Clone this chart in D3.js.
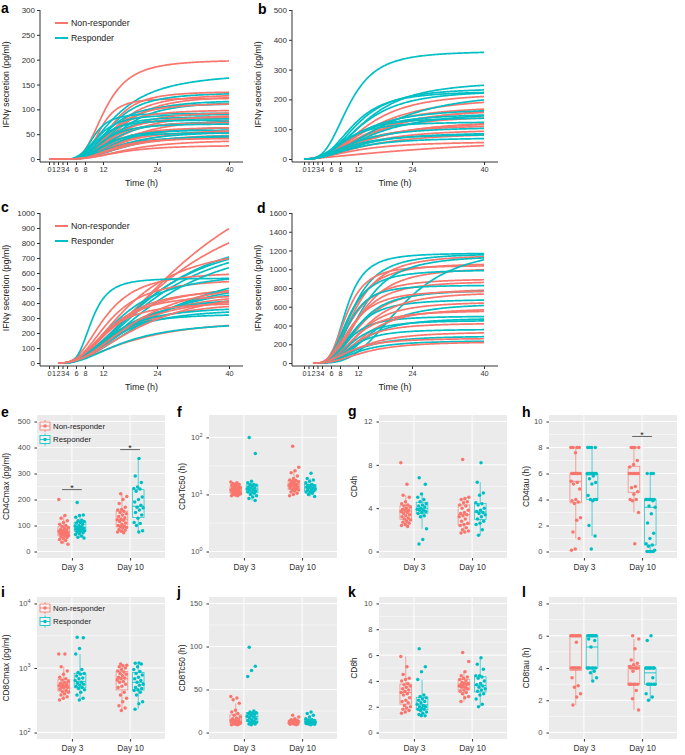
<!DOCTYPE html>
<html><head><meta charset="utf-8">
<script src="https://cdn.jsdelivr.net/npm/d3@7"></script>
<style>
body{margin:0;background:#fff}
svg{display:block}
text{font-family:"Liberation Sans",Arial,Helvetica,sans-serif}
</style>
</head><body>
<svg id="chart" width="685" height="755"></svg>
<script>
const RED="#F8766D", TEAL="#00BFC4";
const timeTicks=[0,1,2,3,4,6,8,12,24,40];
const groupNames=["Non-responder","Responder"];
const dayNames=["Day 3","Day 10"];

// Fitted kinetic curves, one per patient: [Cmax, Tc50, h, tau]
const aNon=[[200,8.5,3,4],[122,7.5,4,4],[136,10,3.5,4],[131,11,3,4],[128,12,3,4],[113,10,3,4],[99,9,3,4],[95,11,3,4],[92,12,2.5,4],[86,10,3,4],[82,13,2.5,4],[74,9,3,4],[67,12,2.5,4],[64,10,3,4],[62,14,2.5,4],[56,11,3,4],[51,13,2.5,4],[46,12,2.5,4],[42,10,3,4],[39,14,2.5,4],[28,12,2.5,4]];
const aRes=[[175,11,2.2,4],[134,10,3,4],[119,11,3,4],[116,12,3,4],[112,9,3,4],[92,6,3.5,4],[90,7,3,4],[86,8,3,4],[83,9,3,4],[79,7,3,4],[76,10,3,4],[71,8,3,4],[66,11,2.5,4],[59,9,3,4],[56,12,2.5,4],[53,8,3,4],[50,13,2.5,4],[46,10,2.5,4]];
const bNon=[[222,14,2.7,0],[210,15,2.3,0],[185,16,2,0],[180,13,2.3,0],[170,14,2.3,0],[148,13,2.3,0],[135,15,2,0],[126,14,2.3,0],[116,12,2.3,0],[100,13,2.3,0],[90,14,2,0],[60,12,2,0],[90,40,1.3,0]];
const bRes=[[362,10,3.2,0],[262,14,2.7,0],[238,12,3,0],[232,13,2.7,0],[228,11,3,0],[230,18,2.3,0],[172,12,2.3,0],[160,15,2.3,0],[155,11,2.3,0],[140,10,2.7,0],[125,9,2.7,0],[108,11,2.3,0],[90,12,2.3,0],[84,10,2.3,0],[72,11,2.3,0]];
const cNon=[[1520,31,1.9,2.5],[1200,26,1.9,2.5],[805,16,2.2,2.5],[610,10,2.6,2.5],[565,11,2.6,2.5],[530,13,2.2,2.5],[500,12,2.6,2.5],[485,15,2.2,2.5],[460,11,2.6,2.5],[450,14,2.2,2.5],[420,14,2.2,2.5],[405,10,2.6,2.5],[300,16,1.9,2.5],[560,17,2.2,2.5],[520,19,2,2.5]];
const cRes=[[935,21,2,3],[895,20,2,3],[885,21,2,3],[860,22,2,3],[565,6.5,3.5,3],[610,13,2.3,3],[600,19,1.9,3],[540,17,2.1,3],[700,23,1.9,3],[450,13,2.3,3],[380,11,2.3,3],[365,12,2.3,3],[330,10,2.6,3],[280,14,2.1,3]];
const dNon=[[1155,9,2.8,2.5],[1065,8,2.8,2.5],[1040,7,3.2,2.5],[1020,10,2.8,2.5],[900,8,2.8,2.5],[875,9,2.8,2.5],[795,10,2.8,2.5],[775,8,2.8,2.5],[760,11,2.8,2.5],[655,10,2.8,2.5],[585,11,2.8,2.5],[560,9,2.8,2.5],[425,9,2.8,2.5],[335,10,2.4,2.5],[265,8,2.4,2.5],[230,11,2.4,2.5]];
const dRes=[[1172,6.5,3.2,3],[1170,8,2.8,3],[1150,10,2.8,3],[995,7,2.8,3],[1250,19,3,3],[830,7,3.2,3],[780,9,2.8,3],[680,8,2.8,3],[640,12,2.8,3],[500,7,2.8,3],[480,10,2.8,3],[455,8,2.8,3],[360,8,2.8,3],[290,9,2.4,3],[240,9,2.4,3]];

// Per-patient parameters (dot plots)
const e3Non=[200,138,128,118,112,105,100,96,92,88,85,82,80,78,76,74,72,70,68,66,64,62,60,57,54,50,46,42,36,28];
const e3Res=[188,140,138,132,120,118,115,112,110,105,100,98,95,92,90,88,86,84,82,80,78,75,72,68,65,60,55,52];
const e10Non=[222,212,200,185,170,162,160,155,150,145,140,135,130,125,122,120,115,110,105,100,98,95,92,90,85,82,78,75,72];
const e10Res=[358,290,265,248,242,240,232,210,200,190,178,170,168,160,150,140,128,112,108,100,80,75];
const f3Non=[16.5,16,15.5,15,14.8,14.5,14,13.5,13.2,13,12.8,12.5,12.2,12,11.8,11.5,11.3,11,11,10.8,10.5,10.3,10.2,10,10,9.8,9.5,9.5,12,13];
const f3Res=[100,52,17,16,15,15,14.5,14,13.5,13,13,12.5,12,12,11.5,11,11,10.5,10,9.5,9,8.5,7.8];
const f10Non=[70,30,26,24,21,19,18,17.5,17,16.5,16,15.5,15,15,14.5,14,14,13.5,13,13,12.5,12,12,11.5,11,10.5,10,9.5];
const f10Res=[23.5,19,18,17,16,15,14.5,14,14,13.5,13,13,12.5,12,12,11.5,11,11,10.5,10,9.2];
const g3Non=[8.2,6.2,5.2,5,4.6,4.4,4.3,4.2,4.1,4,3.9,3.8,3.8,3.7,3.6,3.5,3.4,3.3,3.2,3.1,3,2.9,2.8,2.7,2.6,2.5,2.4,2.3];
const g3Res=[6.8,6.2,5.3,5,4.8,4.6,4.4,4.3,4.2,4.1,4,3.9,3.8,3.8,3.7,3.6,3.5,3.3,3.2,2.1,1.1,0.7];
const g10Non=[8.5,5,4.9,4.8,4.6,4.5,4.3,4.2,4,3.8,3.6,3.5,3.4,3.3,3.2,3,2.8,2.6,2.5,2.4,2.2,2,1.9,1.8,1.7];
const g10Res=[8.2,6.4,5.4,5.2,4.5,4.4,4.3,4,3.8,3.7,3.6,3.5,3.4,3.2,3,2.8,2.6,2.5,2,1.5];
const h3Non=[8,8,8,8,7.6,6,6,6,6,6,6,6,6,5.4,5.3,5.2,4.8,4,3.9,3.8,3.7,2.6,2.4,1.5,1,0.2,0.1];
const h3Res=[8,8,8,8,6,6,6,6,6,6,6,6,5.8,5.6,5.3,5.2,4.3,4,4,4,3.9,2,1.2,0.2];
const h10Non=[8,8,8,8,7,6.7,6.5,6,6,6,6,6,6,6,6,5,4.9,4.6,4.4,4,4,3.9,3,0.6];
const h10Res=[6,6,6,4,4,4,4,4,4,4,3.9,3.5,3.4,2.9,2.2,1.4,1,0.6,0.5,0.4,0.1,0,0,0,0];
const i3Non=[1650,1650,1050,900,800,720,680,650,620,600,580,560,550,530,520,510,500,490,470,450,430,420,400,380,360,340,320];
const i3Res=[3000,2950,2000,1650,950,850,820,800,750,700,680,640,600,580,560,540,520,500,480,460,420,380,340,320];
const i10Non=[1150,1100,1080,1050,1000,950,900,870,820,800,760,720,700,680,650,620,600,560,520,500,420,380,340,300,260,240,220];
const i10Res=[1200,1180,1150,1050,950,880,820,780,720,680,640,600,560,540,500,480,460,450,420,380,300,280,230];
const j3Non=[42,40,38,34,26,24,22,20,18,17,16,15,14,14,13,13,12,12,12,11,11,11,10,10,10,9.5,9,9];
const j3Res=[99,77,72,65,25,24,23,22,22,21,20,19,18,17,16,15,14,13,12,12,11,10,10,9];
const j10Non=[20,18,16,15,14,14,13.5,13,13,12.5,12,12,12,11.5,11,11,10.5,10,10,9.5,9];
const j10Res=[24,22,20,18,16,15,14.5,14,13.5,13,13,12.5,12,12,11.5,11,11,10.5,10,10,9.5,9];
const k3Non=[5.9,5.1,4.5,4.2,4.1,4,3.8,3.7,3.6,3.5,3.4,3.3,3.2,3.1,3,2.9,2.7,2.5,2.4,2.3,2.1,2,1.9,1.8,1.7,1.6,1.5];
const k3Res=[6.5,5.1,4.7,4.1,2.9,2.8,2.7,2.6,2.5,2.4,2.3,2.2,2.1,2,2,1.9,1.8,1.8,1.7,1.6,1.5,1.4,1.3,1.3];
const k10Non=[6.2,5.5,4.7,4.4,4.3,4.2,4.1,4,3.9,3.8,3.8,3.7,3.7,3.6,3.6,3.5,3.5,3.4,3.3,3.2,3.1,3,2.8,2.7,2.4];
const k10Res=[5.8,5.3,4.9,4.4,4.4,4.3,4.2,4,3.8,3.7,3.6,3.5,3.4,3.3,3.2,3,2.9,2.6,2.2,2];
const l3Non=[6,6,6,6,6,6,6,6,6,5.6,4,4,4,4,4,4,4,4,3.4,2.9,2.8,2.4,2.2,1.7];
const l3Res=[6,6,6,6,6,6,6,6,5.8,5.7,5.3,4,4,4,4,4,4,3.8,3.7,3.4,3.2];
const l10Non=[6,5.8,5.2,4.5,4.3,4.2,4.1,4,4,4,4,4,4,3.8,3,3,3,3,3,3,2.6,2.1,1.4];
const l10Res=[6,5.7,4,4,4,4,4,4,4,4,3.4,3,3,3,3,3,3,2.4,2.2,2];

// significance bars: [day index, y value]
const sigE=[[1,238],[2,392]];
const sigH=[[2,8.85]];

const svg=d3.select("#chart");

function hill(p,t){
  const [cmax,tc50,h,tau]=p; const s=t-tau;
  if(s<=0) return 0;
  const a=Math.pow(s,h);
  return cmax*a/(Math.pow(tc50,h)+a);
}

function letter(txt,x,y){
  svg.append("text").attr("x",x).attr("y",y).attr("font-size",14).attr("font-weight","bold").attr("fill","#000").text(txt);
}

function linePanel(o){
  const g=svg.append("g");
  const x=d3.scaleLinear().domain([0,40]).range([o.x0,o.x1]);
  const y=d3.scaleLinear().domain([0,o.ymax]).range([o.y0,o.yTop]);
  const ts=d3.range(0,40.001,0.2);
  const line=d3.line().x(d=>x(d[0])).y(d=>y(d[1]));
  function drawCurve(p,col,start){
    const pts=ts.filter(t=>t>=start-1e-9).map(t=>[t,hill(p,t)]);
    g.append("path").attr("d",line(pts)).attr("fill","none").attr("stroke",col).attr("stroke-width",1.7);
  }
  const n=Math.max(o.non.length,o.res.length);
  for(let i=0;i<n;i++){
    if(i<o.non.length) drawCurve(o.non[i],RED,o.startNon);
    if(i<o.res.length) drawCurve(o.res[i],TEAL,o.startRes);
  }
  const ya=g.append("g").attr("transform",`translate(${o.axX},0)`)
    .call(d3.axisLeft(y).tickValues(o.yTicks).tickFormat(d3.format("d")).tickSize(3).tickPadding(2));
  ya.select(".domain").remove();
  ya.selectAll("text").attr("font-size",8).attr("fill","#333").style("font-family",'"Liberation Sans",Arial,sans-serif');
  ya.selectAll("line").attr("stroke","#333");
  g.append("line").attr("x1",o.axX).attr("x2",o.axX).attr("y1",o.yTop).attr("y2",o.axY).attr("stroke","#333").attr("stroke-width",1);
  const xa=g.append("g").attr("transform",`translate(0,${o.axY})`)
    .call(d3.axisBottom(x).tickValues(timeTicks).tickFormat(d3.format("d")).tickSize(3).tickPadding(2));
  xa.select(".domain").remove();
  xa.selectAll("text").attr("font-size",7.3).attr("fill","#333").style("font-family",'"Liberation Sans",Arial,sans-serif');
  xa.selectAll("line").attr("stroke","#333");
  g.append("line").attr("x1",o.axX).attr("x2",o.xEnd).attr("y1",o.axY).attr("y2",o.axY).attr("stroke","#333").attr("stroke-width",1);
  g.append("text").attr("x",(o.axX+o.xEnd)/2).attr("y",o.axY+24).attr("text-anchor","middle").attr("font-size",9).attr("fill","#222").text("Time (h)");
  g.append("text").attr("transform",`translate(${o.axX-31},${(o.y0+o.yTop)/2}) rotate(-90)`).attr("text-anchor","middle").attr("font-size",8.8).attr("fill","#222").text("IFNγ secretion (pg/ml)");
  if(o.legend){
    [RED,TEAL].forEach((c,i)=>{
      const ly=o.yTop+13+i*15;
      g.append("line").attr("x1",o.axX+15).attr("x2",o.axX+28).attr("y1",ly).attr("y2",ly).attr("stroke",c).attr("stroke-width",2);
      g.append("text").attr("x",o.axX+31).attr("y",ly+3).attr("font-size",8.8).attr("fill","#222").text(groupNames[i]);
    });
  }
}

linePanel({x0:49,x1:229,axX:40,xEnd:243,yTop:10,y0:159,axY:162,ymax:300,yTicks:d3.range(0,301,50),non:aNon,res:aRes,startNon:0,startRes:4,legend:true});
linePanel({x0:304,x1:484,axX:292,xEnd:498,yTop:10,y0:159,axY:162,ymax:500,yTicks:d3.range(0,501,100),non:bNon,res:bRes,startNon:0,startRes:0,legend:false});
linePanel({x0:49,x1:229,axX:40,xEnd:243,yTop:213,y0:363,axY:366,ymax:1000,yTicks:d3.range(0,1001,100),non:cNon,res:cRes,startNon:2,startRes:3,legend:true});
linePanel({x0:304,x1:484,axX:292,xEnd:498,yTop:213,y0:363,axY:366,ymax:1600,yTicks:d3.range(0,1601,200),non:dNon,res:dRes,startNon:2,startRes:3,legend:false});

letter("a",1,13); letter("b",258,14); letter("c",1,212); letter("d",257,213);

function boxStats(vals){
  const s=vals.slice().sort(d3.ascending);
  const q1=d3.quantile(s,0.25), med=d3.quantile(s,0.5), q3=d3.quantile(s,0.75);
  const iqr=q3-q1;
  const lo=d3.min(s.filter(v=>v>=q1-1.5*iqr)), hi=d3.max(s.filter(v=>v<=q3+1.5*iqr));
  return {q1,med,q3,lo,hi};
}

function supLabel(sel,exp){
  sel.text(null);
  sel.append("tspan").text("10");
  sel.append("tspan").attr("dy",-3.5).attr("font-size",5.5).text(exp);
}

function dotPanel(o){
  const g=svg.append("g");
  const W=128;
  const tf=o.log?(v=>Math.log10(v)):(v=>v);
  const lo=tf(o.dom[0]), hi=tf(o.dom[1]), ex=0.05*(hi-lo);
  const y=d3.scaleLinear().domain([lo-ex,hi+ex]).range([o.top+o.h,o.top]);
  const x=d3.scaleLinear().domain([0.4,2.6]).range([o.left,o.left+W]);
  g.append("rect").attr("x",o.left).attr("y",o.top).attr("width",W).attr("height",o.h).attr("fill","#EBEBEB");
  const major=o.ticks.map(tf);
  const step=major[1]-major[0];
  const minor=d3.range(major[0]-step/2,major[major.length-1]+step,step).filter(v=>v>=lo-ex&&v<=hi+ex);
  minor.forEach(v=>g.append("line").attr("x1",o.left).attr("x2",o.left+W).attr("y1",y(v)).attr("y2",y(v)).attr("stroke","#fff").attr("stroke-width",0.5));
  major.forEach(v=>g.append("line").attr("x1",o.left).attr("x2",o.left+W).attr("y1",y(v)).attr("y2",y(v)).attr("stroke","#fff").attr("stroke-width",1));
  [1,2].forEach(c=>g.append("line").attr("x1",x(c)).attr("x2",x(c)).attr("y1",o.top).attr("y2",o.top+o.h).attr("stroke","#fff").attr("stroke-width",1));
  const ya=g.append("g").attr("transform",`translate(${o.left},0)`)
    .call(d3.axisLeft(y).tickValues(major).tickFormat(d3.format("d")).tickSize(2.5).tickPadding(4));
  ya.select(".domain").remove();
  ya.selectAll("line").attr("stroke","#333");
  ya.selectAll("text").attr("font-size",7.6).attr("fill","#4D4D4D").style("font-family",'"Liberation Sans",Arial,sans-serif');
  if(o.log) ya.selectAll("text").each(function(d){supLabel(d3.select(this),String(Math.round(d)));});
  const xa=g.append("g").attr("transform",`translate(0,${o.top+o.h})`)
    .call(d3.axisBottom(x).tickValues([1,2]).tickFormat((d,i)=>dayNames[i]).tickSize(2.5).tickPadding(4));
  xa.select(".domain").remove();
  xa.selectAll("line").attr("stroke","#333");
  xa.selectAll("text").attr("font-size",8.4).attr("fill","#333").style("font-family",'"Liberation Sans",Arial,sans-serif');
  g.append("text").attr("transform",`translate(${o.titleX},${o.top+o.h/2}) rotate(-90)`).attr("text-anchor","middle").attr("font-size",8.4).attr("fill","#222").text(o.title);
  const cols=[RED,TEAL], off=[-0.14,0.14], bw=0.1;
  o.data.forEach((pair,di)=>{
    pair.forEach((vals,gi)=>{
      const cx=di+1+off[gi];
      const st=boxStats(vals.map(tf));
      const c=cols[gi];
      g.append("line").attr("x1",x(cx)).attr("x2",x(cx)).attr("y1",y(st.hi)).attr("y2",y(st.q3)).attr("stroke",c).attr("stroke-width",0.8).attr("stroke-opacity",0.8);
      g.append("line").attr("x1",x(cx)).attr("x2",x(cx)).attr("y1",y(st.q1)).attr("y2",y(st.lo)).attr("stroke",c).attr("stroke-width",0.8).attr("stroke-opacity",0.8);
      g.append("rect").attr("x",x(cx-bw)).attr("y",y(st.q3)).attr("width",x(cx+bw)-x(cx-bw)).attr("height",y(st.q1)-y(st.q3))
        .attr("fill","none").attr("stroke",c).attr("stroke-width",0.8).attr("stroke-opacity",0.8);
      g.append("line").attr("x1",x(cx-bw)).attr("x2",x(cx+bw)).attr("y1",y(st.med)).attr("y2",y(st.med)).attr("stroke",c).attr("stroke-width",1).attr("stroke-opacity",0.85);
      vals.forEach((v,i)=>{
        const j=(((i*0.6180339887+di*0.37+gi*0.21)%1)-0.5)*2*0.085;
        g.append("circle").attr("cx",x(cx+j)).attr("cy",y(tf(v))).attr("r",1.75).attr("fill",c);
      });
    });
  });
  (o.sig||[]).forEach(s=>{
    const yy=y(tf(s[1]));
    g.append("line").attr("x1",x(s[0]-0.17)).attr("x2",x(s[0]+0.17)).attr("y1",yy).attr("y2",yy).attr("stroke","#555").attr("stroke-width",0.9);
    g.append("text").attr("x",x(s[0])).attr("y",yy+1.5).attr("text-anchor","middle").attr("font-size",9).attr("fill","#222").text("*");
  });
  if(o.legend){
    cols.forEach((c,i)=>{
      const ky=o.top+11+i*13.5, kx=o.left+8;
      g.append("line").attr("x1",kx).attr("x2",kx).attr("y1",ky-6).attr("y2",ky+6).attr("stroke",c).attr("stroke-width",0.8);
      g.append("rect").attr("x",kx-5).attr("y",ky-4).attr("width",10).attr("height",8).attr("fill","#F4F4F4").attr("stroke",c).attr("stroke-width",0.8);
      g.append("line").attr("x1",kx-5).attr("x2",kx+5).attr("y1",ky).attr("y2",ky).attr("stroke",c).attr("stroke-width",0.8);
      g.append("circle").attr("cx",kx).attr("cy",ky).attr("r",1.75).attr("fill",c);
      g.append("text").attr("x",kx+8).attr("y",ky+2.8).attr("font-size",7.8).attr("fill","#222").text(groupNames[i]);
    });
  }
}

const topY=415, topH=143, botY=597, botH=142;
dotPanel({left:37,top:topY,h:topH,dom:[0,500],ticks:[0,100,200,300,400,500],title:"CD4Cmax (pg/ml)",titleX:9,data:[[e3Non,e3Res],[e10Non,e10Res]],legend:true,sig:sigE});
dotPanel({left:209,top:topY,h:topH,log:true,dom:[1,190],ticks:[1,10,100],title:"CD4Tc50 (h)",titleX:185,data:[[f3Non,f3Res],[f10Non,f10Res]]});
dotPanel({left:379,top:topY,h:topH,dom:[0,12],ticks:[0,4,8,12],title:"CD4h",titleX:357,data:[[g3Non,g3Res],[g10Non,g10Res]]});
dotPanel({left:549,top:topY,h:topH,dom:[0,10],ticks:[0,2,4,6,8,10],title:"CD4tau (h)",titleX:529,data:[[h3Non,h3Res],[h10Non,h10Res]],sig:sigH});
dotPanel({left:37,top:botY,h:botH,log:true,dom:[100,10000],ticks:[100,1000,10000],title:"CD8Cmax (pg/ml)",titleX:9,data:[[i3Non,i3Res],[i10Non,i10Res]],legend:true});
dotPanel({left:209,top:botY,h:botH,dom:[0,150],ticks:[0,50,100,150],title:"CD8Tc50 (h)",titleX:185,data:[[j3Non,j3Res],[j10Non,j10Res]]});
dotPanel({left:379,top:botY,h:botH,dom:[0,10],ticks:[0,2,4,6,8,10],title:"CD8h",titleX:357,data:[[k3Non,k3Res],[k10Non,k10Res]]});
dotPanel({left:549,top:botY,h:botH,dom:[0,8],ticks:[0,2,4,6,8],title:"CD8tau (h)",titleX:529,data:[[l3Non,l3Res],[l10Non,l10Res]]});

letter("e",1,417); letter("f",177,417); letter("g",348,416); letter("h",522,417);
letter("i",1,597); letter("j",177,597); letter("k",348,597); letter("l",522,597);
</script>
</body></html>
